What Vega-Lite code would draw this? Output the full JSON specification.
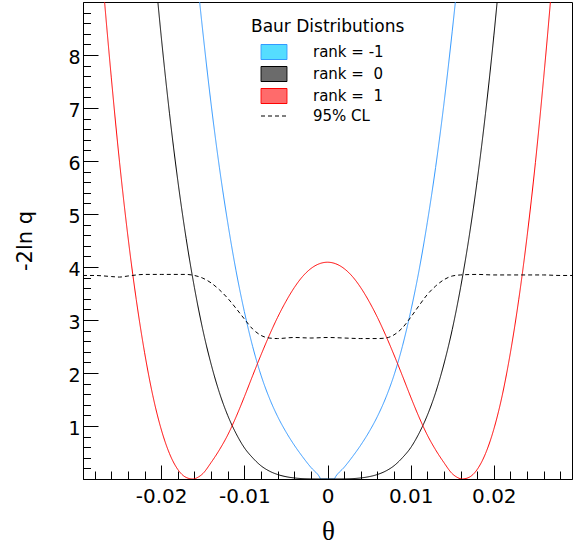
{
  "$schema": "https://vega.github.io/schema/vega-lite/v6.json",
  "width": 489,
  "height": 477,
  "autosize": {"type": "none"},
  "padding": {"left": 83, "top": 2, "right": 8, "bottom": 68},
  "background": "white",
  "config": {
    "view": {"stroke": "black", "strokeWidth": 1},
    "axis": {"grid": false, "domainColor": "black", "domainWidth": 1, "tickColor": "black", "tickWidth": 1, "labelColor": "black", "titleColor": "black", "labelFont": "DejaVu Sans"},
    "legend": {"symbolFillColor": "transparent"}
  },
  "data": {"values": [
    {"series": "rank = -1", "theta": -0.016, "q": 9.95},
    {"series": "rank = -1", "theta": -0.015, "q": 8.45},
    {"series": "rank = -1", "theta": -0.014, "q": 7.08},
    {"series": "rank = -1", "theta": -0.013, "q": 5.88},
    {"series": "rank = -1", "theta": -0.012, "q": 4.84},
    {"series": "rank = -1", "theta": -0.011, "q": 3.93},
    {"series": "rank = -1", "theta": -0.010, "q": 3.16},
    {"series": "rank = -1", "theta": -0.009, "q": 2.50},
    {"series": "rank = -1", "theta": -0.008, "q": 1.96},
    {"series": "rank = -1", "theta": -0.007, "q": 1.53},
    {"series": "rank = -1", "theta": -0.006, "q": 1.18},
    {"series": "rank = -1", "theta": -0.005, "q": 0.89},
    {"series": "rank = -1", "theta": -0.004, "q": 0.64},
    {"series": "rank = -1", "theta": -0.003, "q": 0.42},
    {"series": "rank = -1", "theta": -0.002, "q": 0.22},
    {"series": "rank = -1", "theta": -0.001, "q": 0.05},
    {"series": "rank = -1", "theta": -0.0008, "q": 0},
    {"series": "rank = -1", "theta": 0, "q": 0},
    {"series": "rank = -1", "theta": 0.0008, "q": 0},
    {"series": "rank = -1", "theta": 0.001, "q": 0.05},
    {"series": "rank = -1", "theta": 0.002, "q": 0.22},
    {"series": "rank = -1", "theta": 0.003, "q": 0.42},
    {"series": "rank = -1", "theta": 0.004, "q": 0.64},
    {"series": "rank = -1", "theta": 0.005, "q": 0.89},
    {"series": "rank = -1", "theta": 0.006, "q": 1.18},
    {"series": "rank = -1", "theta": 0.007, "q": 1.53},
    {"series": "rank = -1", "theta": 0.008, "q": 1.96},
    {"series": "rank = -1", "theta": 0.009, "q": 2.50},
    {"series": "rank = -1", "theta": 0.010, "q": 3.16},
    {"series": "rank = -1", "theta": 0.011, "q": 3.93},
    {"series": "rank = -1", "theta": 0.012, "q": 4.84},
    {"series": "rank = -1", "theta": 0.013, "q": 5.88},
    {"series": "rank = -1", "theta": 0.014, "q": 7.08},
    {"series": "rank = -1", "theta": 0.015, "q": 8.45},
    {"series": "rank = -1", "theta": 0.016, "q": 9.95},

    {"series": "rank = \u00a00", "theta": -0.021, "q": 10.02},
    {"series": "rank = \u00a00", "theta": -0.020, "q": 8.36},
    {"series": "rank = \u00a00", "theta": -0.019, "q": 6.90},
    {"series": "rank = \u00a00", "theta": -0.018, "q": 5.63},
    {"series": "rank = \u00a00", "theta": -0.017, "q": 4.54},
    {"series": "rank = \u00a00", "theta": -0.016, "q": 3.61},
    {"series": "rank = \u00a00", "theta": -0.015, "q": 2.82},
    {"series": "rank = \u00a00", "theta": -0.014, "q": 2.17},
    {"series": "rank = \u00a00", "theta": -0.013, "q": 1.63},
    {"series": "rank = \u00a00", "theta": -0.012, "q": 1.20},
    {"series": "rank = \u00a00", "theta": -0.011, "q": 0.86},
    {"series": "rank = \u00a00", "theta": -0.010, "q": 0.59},
    {"series": "rank = \u00a00", "theta": -0.009, "q": 0.40},
    {"series": "rank = \u00a00", "theta": -0.008, "q": 0.25},
    {"series": "rank = \u00a00", "theta": -0.007, "q": 0.15},
    {"series": "rank = \u00a00", "theta": -0.006, "q": 0.085},
    {"series": "rank = \u00a00", "theta": -0.005, "q": 0.044},
    {"series": "rank = \u00a00", "theta": -0.004, "q": 0.02},
    {"series": "rank = \u00a00", "theta": -0.002, "q": 0.002},
    {"series": "rank = \u00a00", "theta": 0, "q": 0},
    {"series": "rank = \u00a00", "theta": 0.002, "q": 0.002},
    {"series": "rank = \u00a00", "theta": 0.004, "q": 0.02},
    {"series": "rank = \u00a00", "theta": 0.005, "q": 0.044},
    {"series": "rank = \u00a00", "theta": 0.006, "q": 0.085},
    {"series": "rank = \u00a00", "theta": 0.007, "q": 0.15},
    {"series": "rank = \u00a00", "theta": 0.008, "q": 0.25},
    {"series": "rank = \u00a00", "theta": 0.009, "q": 0.40},
    {"series": "rank = \u00a00", "theta": 0.010, "q": 0.59},
    {"series": "rank = \u00a00", "theta": 0.011, "q": 0.86},
    {"series": "rank = \u00a00", "theta": 0.012, "q": 1.20},
    {"series": "rank = \u00a00", "theta": 0.013, "q": 1.63},
    {"series": "rank = \u00a00", "theta": 0.014, "q": 2.17},
    {"series": "rank = \u00a00", "theta": 0.015, "q": 2.82},
    {"series": "rank = \u00a00", "theta": 0.016, "q": 3.61},
    {"series": "rank = \u00a00", "theta": 0.017, "q": 4.54},
    {"series": "rank = \u00a00", "theta": 0.018, "q": 5.63},
    {"series": "rank = \u00a00", "theta": 0.019, "q": 6.90},
    {"series": "rank = \u00a00", "theta": 0.020, "q": 8.36},
    {"series": "rank = \u00a00", "theta": 0.021, "q": 10.02},

    {"series": "rank = \u00a01", "theta": -0.028, "q": 11.4},
    {"series": "rank = \u00a01", "theta": -0.027, "q": 9.37},
    {"series": "rank = \u00a01", "theta": -0.026, "q": 7.58},
    {"series": "rank = \u00a01", "theta": -0.025, "q": 5.97},
    {"series": "rank = \u00a01", "theta": -0.024, "q": 4.58},
    {"series": "rank = \u00a01", "theta": -0.023, "q": 3.39},
    {"series": "rank = \u00a01", "theta": -0.022, "q": 2.39},
    {"series": "rank = \u00a01", "theta": -0.021, "q": 1.57},
    {"series": "rank = \u00a01", "theta": -0.020, "q": 0.94},
    {"series": "rank = \u00a01", "theta": -0.019, "q": 0.48},
    {"series": "rank = \u00a01", "theta": -0.018, "q": 0.18},
    {"series": "rank = \u00a01", "theta": -0.017, "q": 0.03},
    {"series": "rank = \u00a01", "theta": -0.0162, "q": 0},
    {"series": "rank = \u00a01", "theta": -0.0155, "q": 0.04},
    {"series": "rank = \u00a01", "theta": -0.015, "q": 0.10},
    {"series": "rank = \u00a01", "theta": -0.014, "q": 0.31},
    {"series": "rank = \u00a01", "theta": -0.013, "q": 0.55},
    {"series": "rank = \u00a01", "theta": -0.012, "q": 0.83},
    {"series": "rank = \u00a01", "theta": -0.011, "q": 1.17},
    {"series": "rank = \u00a01", "theta": -0.010, "q": 1.55},
    {"series": "rank = \u00a01", "theta": -0.009, "q": 1.95},
    {"series": "rank = \u00a01", "theta": -0.008, "q": 2.34},
    {"series": "rank = \u00a01", "theta": -0.007, "q": 2.71},
    {"series": "rank = \u00a01", "theta": -0.006, "q": 3.05},
    {"series": "rank = \u00a01", "theta": -0.005, "q": 3.35},
    {"series": "rank = \u00a01", "theta": -0.004, "q": 3.61},
    {"series": "rank = \u00a01", "theta": -0.003, "q": 3.82},
    {"series": "rank = \u00a01", "theta": -0.002, "q": 3.97},
    {"series": "rank = \u00a01", "theta": -0.001, "q": 4.06},
    {"series": "rank = \u00a01", "theta": 0, "q": 4.09},
    {"series": "rank = \u00a01", "theta": 0.001, "q": 4.06},
    {"series": "rank = \u00a01", "theta": 0.002, "q": 3.97},
    {"series": "rank = \u00a01", "theta": 0.003, "q": 3.82},
    {"series": "rank = \u00a01", "theta": 0.004, "q": 3.61},
    {"series": "rank = \u00a01", "theta": 0.005, "q": 3.35},
    {"series": "rank = \u00a01", "theta": 0.006, "q": 3.05},
    {"series": "rank = \u00a01", "theta": 0.007, "q": 2.71},
    {"series": "rank = \u00a01", "theta": 0.008, "q": 2.34},
    {"series": "rank = \u00a01", "theta": 0.009, "q": 1.95},
    {"series": "rank = \u00a01", "theta": 0.010, "q": 1.55},
    {"series": "rank = \u00a01", "theta": 0.011, "q": 1.17},
    {"series": "rank = \u00a01", "theta": 0.012, "q": 0.83},
    {"series": "rank = \u00a01", "theta": 0.013, "q": 0.55},
    {"series": "rank = \u00a01", "theta": 0.014, "q": 0.31},
    {"series": "rank = \u00a01", "theta": 0.015, "q": 0.10},
    {"series": "rank = \u00a01", "theta": 0.0155, "q": 0.04},
    {"series": "rank = \u00a01", "theta": 0.0162, "q": 0},
    {"series": "rank = \u00a01", "theta": 0.017, "q": 0.03},
    {"series": "rank = \u00a01", "theta": 0.018, "q": 0.18},
    {"series": "rank = \u00a01", "theta": 0.019, "q": 0.48},
    {"series": "rank = \u00a01", "theta": 0.020, "q": 0.94},
    {"series": "rank = \u00a01", "theta": 0.021, "q": 1.57},
    {"series": "rank = \u00a01", "theta": 0.022, "q": 2.39},
    {"series": "rank = \u00a01", "theta": 0.023, "q": 3.39},
    {"series": "rank = \u00a01", "theta": 0.024, "q": 4.58},
    {"series": "rank = \u00a01", "theta": 0.025, "q": 5.97},
    {"series": "rank = \u00a01", "theta": 0.026, "q": 7.58},
    {"series": "rank = \u00a01", "theta": 0.027, "q": 9.37},
    {"series": "rank = \u00a01", "theta": 0.028, "q": 11.4},

    {"series": "95% CL", "theta": -0.0294, "q": 3.84},
    {"series": "95% CL", "theta": -0.028, "q": 3.84},
    {"series": "95% CL", "theta": -0.026, "q": 3.82},
    {"series": "95% CL", "theta": -0.025, "q": 3.81},
    {"series": "95% CL", "theta": -0.024, "q": 3.83},
    {"series": "95% CL", "theta": -0.022, "q": 3.86},
    {"series": "95% CL", "theta": -0.020, "q": 3.86},
    {"series": "95% CL", "theta": -0.018, "q": 3.86},
    {"series": "95% CL", "theta": -0.017, "q": 3.86},
    {"series": "95% CL", "theta": -0.016, "q": 3.84},
    {"series": "95% CL", "theta": -0.015, "q": 3.79},
    {"series": "95% CL", "theta": -0.014, "q": 3.70},
    {"series": "95% CL", "theta": -0.013, "q": 3.57},
    {"series": "95% CL", "theta": -0.012, "q": 3.41},
    {"series": "95% CL", "theta": -0.011, "q": 3.22},
    {"series": "95% CL", "theta": -0.010, "q": 3.02},
    {"series": "95% CL", "theta": -0.009, "q": 2.83},
    {"series": "95% CL", "theta": -0.008, "q": 2.71},
    {"series": "95% CL", "theta": -0.007, "q": 2.66},
    {"series": "95% CL", "theta": -0.006, "q": 2.65},
    {"series": "95% CL", "theta": -0.004, "q": 2.67},
    {"series": "95% CL", "theta": -0.002, "q": 2.66},
    {"series": "95% CL", "theta": 0, "q": 2.67},
    {"series": "95% CL", "theta": 0.002, "q": 2.66},
    {"series": "95% CL", "theta": 0.004, "q": 2.65},
    {"series": "95% CL", "theta": 0.006, "q": 2.65},
    {"series": "95% CL", "theta": 0.007, "q": 2.66},
    {"series": "95% CL", "theta": 0.008, "q": 2.72},
    {"series": "95% CL", "theta": 0.009, "q": 2.85},
    {"series": "95% CL", "theta": 0.010, "q": 3.05},
    {"series": "95% CL", "theta": 0.011, "q": 3.27},
    {"series": "95% CL", "theta": 0.012, "q": 3.48},
    {"series": "95% CL", "theta": 0.013, "q": 3.64},
    {"series": "95% CL", "theta": 0.014, "q": 3.76},
    {"series": "95% CL", "theta": 0.015, "q": 3.83},
    {"series": "95% CL", "theta": 0.016, "q": 3.85},
    {"series": "95% CL", "theta": 0.018, "q": 3.86},
    {"series": "95% CL", "theta": 0.020, "q": 3.85},
    {"series": "95% CL", "theta": 0.022, "q": 3.85},
    {"series": "95% CL", "theta": 0.024, "q": 3.85},
    {"series": "95% CL", "theta": 0.026, "q": 3.85},
    {"series": "95% CL", "theta": 0.028, "q": 3.84},
    {"series": "95% CL", "theta": 0.0294, "q": 3.84}
  ]},
  "resolve": {"axis": {"x": "independent", "y": "independent"}},
  "layer": [
    {
      "transform": [{"filter": "datum.series != '95% CL'"}],
      "mark": {"type": "line", "clip": true, "strokeWidth": 1, "interpolate": "monotone"},
      "encoding": {
        "x": {
          "field": "theta", "type": "quantitative",
          "scale": {"domain": [-0.0294, 0.0294], "nice": false, "zero": false},
          "axis": {
            "orient": "bottom", "values": [-0.02, -0.01, 0, 0.01, 0.02],
            "tickSize": -14, "labelPadding": 21, "labelFontSize": 20,
            "labelExpr": "datum.value == 0 ? '0' : (datum.value < 0 ? '-' : '') + format(abs(datum.value), '.2f')",
            "labelFlush": false, "labelOverlap": false,
            "title": "θ", "titleFont": "Liberation Serif", "titleFontSize": 27, "titleFontWeight": "normal",
            "titleX": 245, "titleY": 60, "titleBaseline": "alphabetic", "titleAlign": "center"
          }
        },
        "y": {
          "field": "q", "type": "quantitative",
          "scale": {"domain": [0, 9], "nice": false, "zero": false},
          "axis": {
            "orient": "left", "values": [1, 2, 3, 4, 5, 6, 7, 8],
            "tickSize": -15, "labelPadding": 18, "labelFontSize": 19, "labelOffset": 2,
            "format": "d", "labelOverlap": false, "labelFlush": false,
            "title": "-2ln q", "titleFont": "DejaVu Sans", "titleFontSize": 21, "titleFontWeight": "normal",
            "titleAngle": 270, "titleBaseline": "alphabetic", "titleAlign": "center",
            "titleX": -51.5, "titleY": 238.5
          }
        },
        "stroke": {
          "field": "series", "type": "nominal",
          "scale": {"domain": ["rank = -1", "rank = \u00a00", "rank = \u00a01", "95% CL"], "range": ["#3399ff", "#000000", "#ff0000", "#000000"]}
        },
        "strokeDash": {
          "field": "series", "type": "nominal",
          "scale": {"domain": ["rank = -1", "rank = \u00a00", "rank = \u00a01", "95% CL"], "range": [[1, 0], [1, 0], [1, 0], [4, 3]]}
        }
      }
    },
    {
      "transform": [{"filter": "datum.series == '95% CL'"}],
      "mark": {"type": "line", "clip": true, "strokeWidth": 1, "interpolate": "monotone"},
      "encoding": {
        "x": {
          "field": "theta", "type": "quantitative",
          "axis": {
            "orient": "bottom",
            "values": [-0.028, -0.026, -0.024, -0.022, -0.018, -0.016, -0.014, -0.012, -0.008, -0.006, -0.004, -0.002, 0.002, 0.004, 0.006, 0.008, 0.012, 0.014, 0.016, 0.018, 0.022, 0.024, 0.026, 0.028],
            "tickSize": -8, "labels": false, "domain": false, "title": null
          }
        },
        "y": {
          "field": "q", "type": "quantitative",
          "axis": {
            "orient": "left",
            "values": [0.2, 0.4, 0.6, 0.8, 1.2, 1.4, 1.6, 1.8, 2.2, 2.4, 2.6, 2.8, 3.2, 3.4, 3.6, 3.8, 4.2, 4.4, 4.6, 4.8, 5.2, 5.4, 5.6, 5.8, 6.2, 6.4, 6.6, 6.8, 7.2, 7.4, 7.6, 7.8, 8.2, 8.4, 8.6, 8.8],
            "tickSize": -7.5, "labels": false, "domain": false, "title": null
          }
        },
        "stroke": {"field": "series", "type": "nominal"},
        "strokeDash": {"field": "series", "type": "nominal"}
      }
    },
    {
      "transform": [{"filter": "datum.series == 'legend only'"}],
      "mark": {"type": "point", "filled": true, "strokeWidth": 1},
      "encoding": {
        "x": {"field": "theta", "type": "quantitative", "axis": null},
        "y": {"field": "q", "type": "quantitative", "axis": null},
        "fill": {
          "field": "series", "type": "nominal",
          "scale": {"domain": ["rank = -1", "rank = \u00a00", "rank = \u00a01", "95% CL"], "range": ["#55ddff", "#6b6b6b", "#ff6b6b", "transparent"]},
          "legend": {
            "orient": "none", "legendX": 168, "legendY": 17,
            "title": "Baur Distributions", "titleFont": "DejaVu Sans", "titleFontSize": 17, "titleFontWeight": "normal", "titleColor": "black",
            "titlePadding": 8, "padding": 0, "rowPadding": 2,
            "labelFont": "DejaVu Sans", "labelFontSize": 15, "labelColor": "black",
            "symbolSize": 225, "symbolOffset": 15, "labelOffset": 31, "symbolStrokeWidth": 1, "symbolOpacity": 1
          }
        },
        "stroke": {
          "field": "series", "type": "nominal",
          "legend": {
            "orient": "none", "legendX": 168, "legendY": 17,
            "title": "Baur Distributions", "titleFont": "DejaVu Sans", "titleFontSize": 17, "titleFontWeight": "normal", "titleColor": "black",
            "titlePadding": 8, "padding": 0, "rowPadding": 2,
            "labelFont": "DejaVu Sans", "labelFontSize": 15, "labelColor": "black",
            "symbolSize": 225, "symbolOffset": 15, "labelOffset": 31, "symbolStrokeWidth": 1, "symbolOpacity": 1
          }
        },
        "shape": {
          "field": "series", "type": "nominal",
          "scale": {"domain": ["rank = -1", "rank = \u00a00", "rank = \u00a01", "95% CL"], "range": ["M-1.733,-1H1.733V1H-1.733Z", "M-1.733,-1H1.733V1H-1.733Z", "M-1.733,-1H1.733V1H-1.733Z", "M-1.733,0H1.733"]},
          "legend": {
            "orient": "none", "legendX": 168, "legendY": 17,
            "title": "Baur Distributions", "titleFont": "DejaVu Sans", "titleFontSize": 17, "titleFontWeight": "normal", "titleColor": "black",
            "titlePadding": 8, "padding": 0, "rowPadding": 2,
            "labelFont": "DejaVu Sans", "labelFontSize": 15, "labelColor": "black",
            "symbolSize": 225, "symbolOffset": 15, "labelOffset": 31, "symbolStrokeWidth": 1, "symbolOpacity": 1
          }
        },
        "strokeDash": {
          "field": "series", "type": "nominal",
          "legend": {
            "orient": "none", "legendX": 168, "legendY": 17,
            "title": "Baur Distributions", "titleFont": "DejaVu Sans", "titleFontSize": 17, "titleFontWeight": "normal", "titleColor": "black",
            "titlePadding": 8, "padding": 0, "rowPadding": 2,
            "labelFont": "DejaVu Sans", "labelFontSize": 15, "labelColor": "black",
            "symbolSize": 225, "symbolOffset": 15, "labelOffset": 31, "symbolStrokeWidth": 1, "symbolOpacity": 1
          }
        }
      }
    }
  ]
}
